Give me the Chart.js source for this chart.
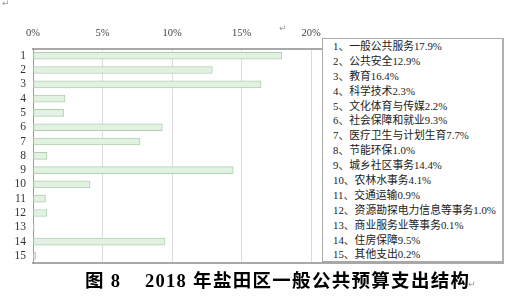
<!DOCTYPE html>
<html>
<head>
<meta charset="utf-8">
<script src="https://cdn.jsdelivr.net/npm/chart.js@4/dist/chart.umd.min.js"></script>
<style>
  html, body { margin: 0; padding: 0; background: #fff; }
  #wrap { position: relative; width: 525px; height: 303px; overflow: hidden; }
  #c { position: absolute; left: 0; top: 0; }
  #legend {
    position: absolute; left: 322px; top: 38px; width: 182px; height: 225px;
    background: #fff; border: 1px solid #aaa; border-right: 2px solid #b0b0b0; border-bottom: 2px solid #a8a8a8;
    box-sizing: border-box; padding: 0 0 0 10px;
    font-family: "Liberation Serif", "Noto Sans CJK SC", serif; font-size: 10.8px; color: #222;
  }
  #legend div { height: 14.9px; line-height: 14.9px; white-space: nowrap; }
  #title {
    position: absolute; left: 85px; top: 268px; white-space: pre;
    font-family: "Liberation Serif", "Noto Sans CJK SC", serif; font-weight: bold;
    font-size: 18.5px; letter-spacing: 1.3px; color: #000; line-height: 26px;
  }
  .pm { position: absolute; color: #999; font-family: "DejaVu Sans"; font-size: 9px; }
</style>
</head>
<body>
<div id="wrap">
  <canvas id="c" width="525" height="303"></canvas>
  <div id="legend"></div>
  <div id="title"></div>
  <span class="pm" style="left:2px;top:-2px;">↵</span>
  <span class="pm" style="left:279px;top:23px;">↵</span>
  <span class="pm" style="left:468px;top:279px;">↵</span>
</div>
<script>
const categories = ["1","2","3","4","5","6","7","8","9","10","11","12","13","14","15"];
const itemNames = ["一般公共服务","公共安全","教育","科学技术","文化体育与传媒","社会保障和就业",
  "医疗卫生与计划生育","节能环保","城乡社区事务","农林水事务","交通运输",
  "资源勘探电力信息等事务","商业服务业等事务","住房保障","其他支出"];
const shares = [17.9, 12.9, 16.4, 2.3, 2.2, 9.3, 7.7, 1.0, 14.4, 4.1, 0.9, 1.0, 0.1, 9.5, 0.2];
const tickValues = [0, 5, 10, 15, 20];
const titleText = "图 8    2018 年盐田区一般公共预算支出结构";

document.getElementById('title').textContent = titleText;
const leg = document.getElementById('legend');
itemNames.forEach((n, i) => {
  const d = document.createElement('div');
  d.textContent = (i + 1) + "、" + n + shares[i].toFixed(1) + "%";
  leg.appendChild(d);
});

new Chart(document.getElementById('c'), {
  type: 'bar',
  data: {
    labels: categories,
    datasets: [{
      data: shares,
      backgroundColor: '#e3f1e3',
      borderColor: '#afd1af',
      borderWidth: 1,
      borderSkipped: false,
      barThickness: 7
    }]
  },
  options: {
    indexAxis: 'y',
    responsive: false,
    animation: false,
    devicePixelRatio: 1,
    layout: { padding: { left: 0, right: 22, top: 18, bottom: 40 } },
    plugins: { legend: { display: false }, tooltip: { enabled: false } },
    scales: {
      x: {
        position: 'top',
        min: 0, max: 33.8,
        afterBuildTicks: (s) => { s.ticks = tickValues.map(v => ({ value: v })); },
        ticks: {
          padding: 9,
          maxRotation: 0,
          color: '#444',
          font: { family: 'Liberation Serif', size: 10.5 },
          callback: (v) => v + '%'
        },
        grid: { color: '#dcdcdc', lineWidth: 1, drawTicks: false },
        border: { color: '#a8a8a8', width: 2 }
      },
      xb: {
        position: 'bottom', axis: 'x', min: 0, max: 33.8,
        ticks: { display: false },
        grid: { display: false, drawTicks: false },
        border: { color: '#a8a8a8', width: 2 }
      },
      y: {
        afterFit: (s) => { s.width = 33; },
        ticks: {
          autoSkip: false,
          padding: 7,
          color: '#333',
          font: { family: 'Liberation Serif', size: 11.5 }
        },
        grid: { display: false, drawTicks: false },
        border: { color: '#999', width: 1 }
      }
    }
  }
});
</script>
</body>
</html>
